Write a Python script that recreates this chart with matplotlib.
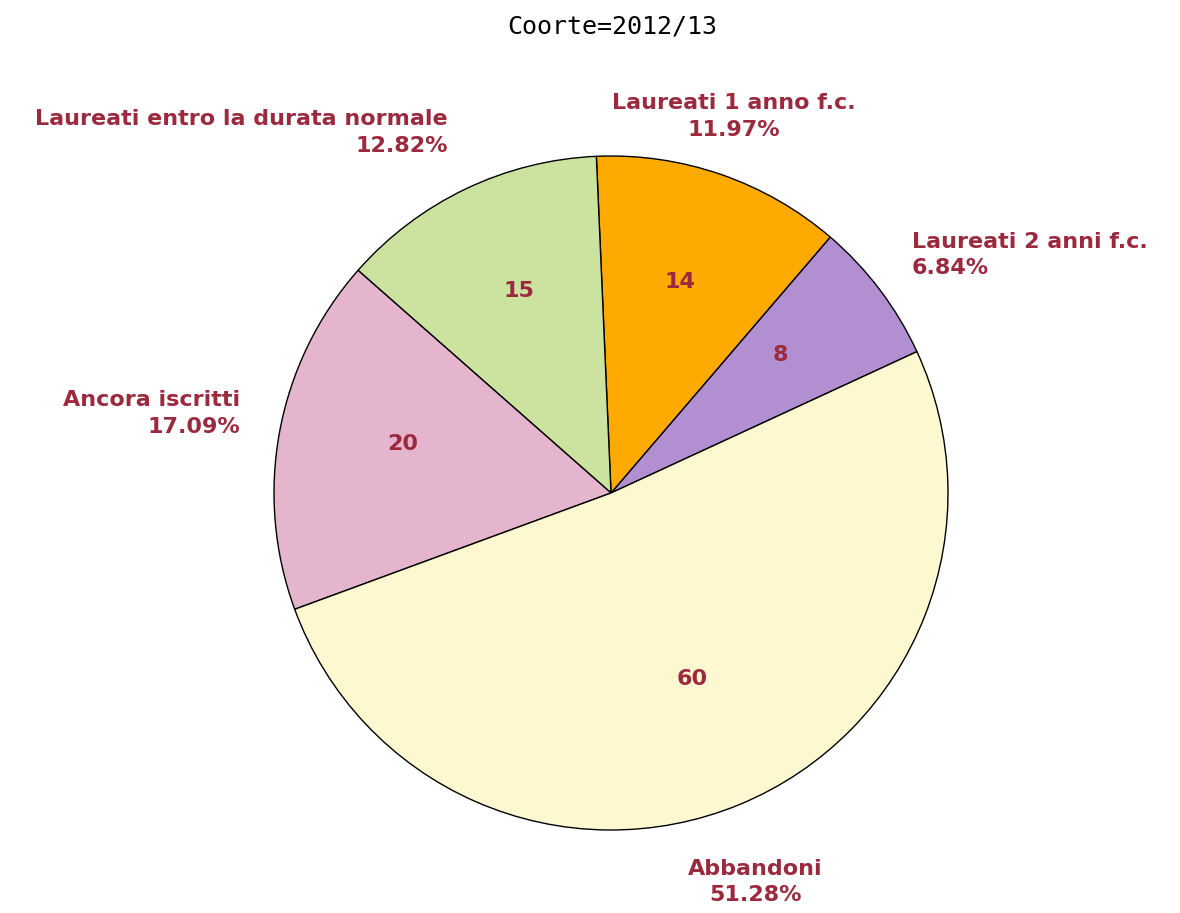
import numpy as np
import matplotlib
matplotlib.use("Agg")
import matplotlib.pyplot as plt

labels = ['Laureati 2 anni f.c.', 'Laureati 1 anno f.c.',
          'Laureati entro la durata normale', 'Ancora iscritti', 'Abbandoni']
counts = [8, 14, 15, 20, 60]
colors = ['#B18FD0', '#FFAA00', '#CCE3A0', '#E4B5CD', '#FDF8CF']
title = 'Coorte=2012/13'

text_color = '#9B2A3F'

fig = plt.figure(figsize=(11.8, 9.13), dpi=100)
cx, cy, r = 611, 913 - 493, 337
ax = fig.add_axes([(cx - r) / 1180, (cy - r) / 913, 2 * r / 1180, 2 * r / 913])

total = sum(counts)
wedges, _, autotexts = ax.pie(
    counts, colors=colors, startangle=24.8, counterclock=True,
    autopct=lambda p: f"{int(round(p * total / 100))}",
    pctdistance=0.63,
    wedgeprops=dict(edgecolor='black', linewidth=1.0),
    textprops=dict(color=text_color, fontsize=16, fontweight='bold'),
)
for t in autotexts:
    t.set_va('bottom')

# outer labels with name and percentage
for w, lab, c in zip(wedges, labels, counts):
    ang = np.deg2rad((w.theta1 + w.theta2) / 2)
    x, y = 1.12 * np.cos(ang), 1.12 * np.sin(ang)
    if abs(np.cos(ang)) < 0.4:
        ha = 'center'
    else:
        ha = 'left' if x > 0 else 'right'
    if np.sin(ang) > 0.85:
        va = 'bottom'
        y -= 0.01
    elif np.sin(ang) < -0.85:
        va = 'top'
        y -= 0.05
    else:
        va = 'center'
        y += 0.03
    ax.text(x, y, f"{lab}\n{100 * c / total:.2f}%", ha=ha, va=va,
            multialignment=ha, linespacing=1.4,
            color=text_color, fontsize=16, fontweight='bold')

ax.set_xlim(-1, 1)
ax.set_ylim(-1, 1)
ax.set_aspect('equal')
ax.axis('off')

fig.text(0.5185, 1 - 27 / 913, title, ha='center', va='center',
         family='DejaVu Sans Mono', fontsize=18, color='black')

fig.savefig('out.png', dpi=100, facecolor='white')
